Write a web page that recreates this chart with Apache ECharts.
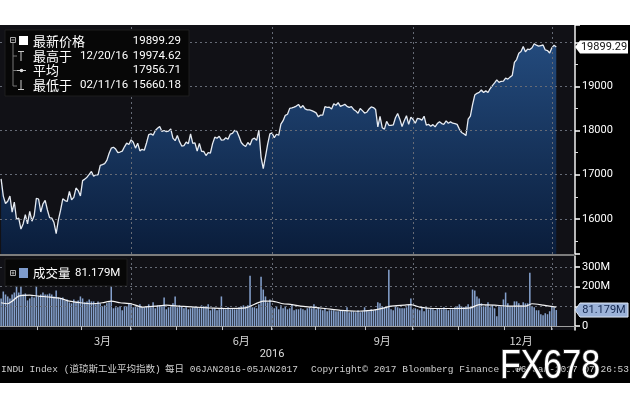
<!DOCTYPE html>
<html><head><meta charset="utf-8">
<script src="https://cdn.jsdelivr.net/npm/echarts@6/dist/echarts.min.js"></script>
<style>html,body{margin:0;padding:0;background:#000;}#c{width:630px;height:402px;}</style>
</head><body><div id="c"></div>
<script>
// ---------- DATA ----------
const startDate = '2016-01-06';
const endDate = '2017-01-18';
const holidays = ['2016-01-18','2016-02-15','2016-03-25','2016-05-30','2016-07-04','2016-09-05','2016-11-24','2016-12-26','2017-01-02','2017-01-16'];

// daily close, one per trading day from 2016-01-06 to 2017-01-05
const priceClose = [
 16907,16515,16346,16399,16516,16151,16380,15988,16016,15767,15883,16094,15886,16167,15945,16069,16466,
 16449,16154,16337,16417,16205,16027,16014,15914,15660,15974,16196,16454,16413,16392,16620,16431,16485,16698,16640,16517,
 16866,16900,16944,17007,17074,16965,17000,16995,17213,17230,17251,17326,17481,17602,17624,17583,17503,17516,17536,17634,17717,17685,
 17793,17737,17604,17716,17542,17577,17556,17721,17909,17927,17898,18004,18054,18096,17983,18004,17978,17991,18042,17830,17774,
 17892,17751,17652,17661,17740,17705,17929,17711,17721,17535,17711,17530,17527,17436,17501,17493,17706,17852,17828,17873,17787,
 17790,17838,17807,17920,17938,18006,17986,17866,17733,17675,17641,17733,17675,17805,17830,17780,18011,17400,17141,17410,17695,17930,
 17949,17841,17919,17896,18147,18227,18348,18373,18507,18517,18534,18559,18596,18518,18571,18494,18473,18473,18456,18432,
 18404,18314,18355,18352,18544,18529,18533,18495,18614,18577,18636,18553,18573,18598,18553,18530,18548,18482,18449,18395,18503,18455,18401,
 18419,18492,18539,18526,18480,18085,18326,18067,18034,18212,18124,18120,18130,18294,18392,18262,18094,18228,18340,18144,18308,
 18254,18168,18281,18269,18240,18329,18129,18145,18099,18138,18087,18162,18203,18163,18146,18224,18170,18199,18170,18161,18143,
 18037,17960,17931,17889,18260,18333,18590,18808,18848,18869,18924,18868,18904,18868,18957,19024,19084,19153,19098,19122,19124,
 19192,19171,19216,19252,19549,19615,19757,19797,19911,19792,19853,19843,19884,19975,19942,19919,19934,19946,19834,19820,19763,
 19882,19942,19899.29
];

// daily volume (millions)
const volume = [
 140,175,160,150,140,160,170,205,170,200,160,165,130,140,150,145,220,
 150,160,170,160,160,165,160,150,180,145,140,145,130,135,120,115,135,120,130,150,
 140,120,125,135,125,125,110,125,115,100,105,115,120,330,90,95,95,100,80,100,100,115,
 110,95,100,95,110,95,95,100,110,95,120,90,105,105,100,145,85,95,100,115,150,
 95,105,100,90,95,85,90,95,95,95,90,105,100,100,110,80,90,90,80,85,150,
 90,85,95,85,90,85,85,95,100,105,100,105,255,95,95,90,110,250,185,150,120,135,
 95,90,100,85,105,90,100,85,90,110,80,85,85,90,85,80,90,95,90,110,
 85,95,85,80,90,75,80,80,80,75,75,80,80,75,95,70,75,75,70,80,70,75,95,
 80,75,85,80,85,120,115,100,95,100,285,85,80,100,95,90,90,90,95,110,140,
 85,90,85,80,95,75,95,85,90,85,80,90,90,85,95,85,80,85,85,95,100,
 110,100,95,100,110,95,185,180,150,140,115,100,105,120,95,105,90,50,100,100,135,
 170,115,100,100,125,125,115,105,120,115,115,270,100,95,80,80,60,55,65,60,75,
 100,95,81.179
];

// volume moving average
const maDates = ['2016-01-06','2016-01-11','2016-01-13','2016-01-19','2016-01-26','2016-02-01','2016-02-08','2016-02-16','2016-02-22','2016-02-29',
 '2016-03-07','2016-03-14','2016-03-18','2016-03-24','2016-04-01','2016-04-08','2016-04-18','2016-04-25','2016-05-03','2016-05-12',
 '2016-05-20','2016-06-02','2016-06-15','2016-06-27','2016-07-01','2016-07-11','2016-07-15','2016-07-21','2016-07-28','2016-08-05',
 '2016-08-16','2016-08-26','2016-09-06','2016-09-14','2016-09-19','2016-09-27','2016-09-30','2016-10-06','2016-10-14','2016-10-27',
 '2016-11-08','2016-11-14','2016-11-23','2016-12-02','2016-12-14','2016-12-19','2016-12-27','2017-01-05'];
const maValues = [118,113,126,152,157,152,147,140,126,118,
 113,118,126,118,113,96,101,106,101,96,
 92,89,92,126,126,113,109,101,96,89,
 79,75,79,92,101,106,109,96,89,89,
 92,109,106,101,101,113,106,96];

const priceGridLevels = [16000,17000,18000,19000,20000];
const volumeGridLevels = [100,200,300];
const quarterStarts = ['2016-04-01','2016-07-01','2016-10-03','2017-01-03'];
const monthLabelDates = ['2016-03-14','2016-06-13','2016-09-13','2016-12-12'];
const monthLabelTexts = ['3月','6月','9月','12月'];
const yearLabel = '2016';
const lastPrice = 19899.29;
const lastVolume = 81.179;
const statLabels = ['最新价格','最高于','平均','最低于'];
const statDates = ['','12/20/16','','02/11/16'];
const statValues = ['19899.29','19974.62','17956.71','15660.18'];
const volumeLegend = ['成交量','81.179M'];
const footerTexts = ['INDU Index (道琼斯工业平均指数)','每日 06JAN2016-05JAN2017','Copyright© 2017 Bloomberg Finance L.P.','06-Jan-2017 07:26:53'];

// ---------- BUILD ----------
function tradingDays(start, end, hol) {
  const out = [];
  const d = new Date(start + 'T00:00:00Z');
  const e = new Date(end + 'T00:00:00Z');
  while (d <= e) {
    const dow = d.getUTCDay();
    const s = d.toISOString().slice(0, 10);
    if (dow !== 0 && dow !== 6 && hol.indexOf(s) < 0) out.push(s);
    d.setUTCDate(d.getUTCDate() + 1);
  }
  return out;
}
const categories = tradingDays(startDate, endDate, holidays);

const CJK = "'Noto Sans CJK SC', sans-serif";
const NUM = "Roboto, 'Noto Sans', sans-serif";
const MONO = "'Liberation Mono', 'Noto Sans CJK SC', monospace";

function T(x, y, text, o) {
  o = o || {};
  const st = {text: text, fill: o.fill || '#fff', fontSize: o.size || 11, fontFamily: o.family || NUM,
    fontWeight: o.weight || 'normal', align: o.align || 'left', textAlign: o.align || 'left',
    verticalAlign: 'middle', textVerticalAlign: 'middle'};
  if (o.stroke) { st.stroke = o.stroke; st.lineWidth = o.lineWidth || 1; }
  const el = {type: 'text', x: x, y: y, z: o.z || 100, silent: true, style: st};
  if (o.scaleX) { el.scaleX = o.scaleX; }
  return el;
}
function L(x1, y1, x2, y2, c, w) {
  return {type: 'line', z: 100, silent: true, shape: {x1: x1, y1: y1, x2: x2, y2: y2}, style: {stroke: c || '#999', lineWidth: w || 1}};
}
function R(x, y, w, h, fill, stroke, z) {
  const st = {fill: fill};
  if (stroke) { st.stroke = stroke; st.lineWidth = 1; }
  return {type: 'rect', z: z || 100, silent: true, shape: {x: x, y: y, width: w, height: h}, style: st};
}

const gridLine = {color: '#666b76', type: [2, 3], width: 1};
const mkLine = function (levels) {
  return {silent: true, symbol: 'none', label: {show: false}, animation: false, lineStyle: gridLine,
    data: levels.map(v => ({yAxis: v})).concat(quarterStarts.map(d => ({xAxis: d})))};
};

const chart = echarts.init(document.getElementById('c'), null, {renderer: 'canvas', width: 630, height: 402});

const option = {
  backgroundColor: '#000',
  animation: false,
  grid: [
    {left: 0, top: 25, width: 575, height: 229, show: true, backgroundColor: '#111116', borderWidth: 0},
    {left: 0, top: 256, width: 575, height: 74, show: true, backgroundColor: '#111116', borderWidth: 0}
  ],
  xAxis: [
    {type: 'category', gridIndex: 0, data: categories, boundaryGap: true,
      axisLine: {show: false}, axisTick: {show: false}, axisLabel: {show: false}, splitLine: {show: false}},
    {type: 'category', gridIndex: 1, data: categories, boundaryGap: true,
      axisLine: {show: true, lineStyle: {color: '#a0a0a0', width: 1}},
      axisTick: {show: true, length: 4, lineStyle: {color: '#c0c0c0'},
        interval: function (i, v) { return i > 0 && v.slice(5, 7) !== categories[i - 1].slice(5, 7); }},
      axisLabel: {show: true, color: '#d8d8d8', fontSize: 11, fontFamily: CJK, margin: 5,
        interval: function (i, v) { return monthLabelDates.indexOf(v) >= 0; },
        formatter: function (v) { const k = monthLabelDates.indexOf(v); return k >= 0 ? monthLabelTexts[k] : ''; }},
      splitLine: {show: false}}
  ],
  yAxis: [
    {type: 'value', gridIndex: 0, position: 'right', min: 15200, max: 20400, splitNumber: 5,
      axisLine: {show: true, lineStyle: {color: '#f2f2f2', width: 1.5}},
      axisTick: {show: true, length: 5, lineStyle: {color: '#fff', width: 1.5}},
      minorTick: {show: true, splitNumber: 2, length: 3, lineStyle: {color: '#ddd', width: 1}},
      axisLabel: {color: '#fff', fontSize: 11, fontFamily: NUM, margin: 7, showMinLabel: false, showMaxLabel: false,
        formatter: function (v) { return (v === 20000 || v % 1000 !== 0) ? '' : String(v); }},
      splitLine: {show: false}},
    {type: 'value', gridIndex: 1, position: 'right', min: -20, max: 355, splitNumber: 5,
      axisLine: {show: true, lineStyle: {color: '#f2f2f2', width: 1.5}},
      axisTick: {show: true, length: 5, lineStyle: {color: '#fff', width: 1.5}},
      axisLabel: {color: '#fff', fontSize: 11, fontFamily: NUM, margin: 7, showMinLabel: false, showMaxLabel: false,
        formatter: function (v) { if (v === 0) return '0'; if (v === 200 || v === 300) return v + 'M'; return ''; }},
      splitLine: {show: false}}
  ],
  series: [
    {type: 'line', xAxisIndex: 0, yAxisIndex: 0, data: priceClose, showSymbol: false, symbol: 'none', z: 2,
      lineStyle: {color: '#e6ebf2', width: 1.3},
      areaStyle: {opacity: 1, color: new echarts.graphic.LinearGradient(0, 0, 0, 1, [
        {offset: 0, color: '#234a7c'}, {offset: 1, color: '#0a1d3b'}])},
      markLine: mkLine(priceGridLevels)},
    {type: 'bar', xAxisIndex: 1, yAxisIndex: 1, data: volume, barWidth: '70%', z: 2,
      itemStyle: {color: '#84a0cc'},
      markLine: mkLine(volumeGridLevels)},
    {type: 'line', xAxisIndex: 1, yAxisIndex: 1, data: maDates.map((d, i) => [d, maValues[i]]),
      showSymbol: false, symbol: 'none', smooth: 0.2, z: 5,
      lineStyle: {color: '#f4f4f4', width: 1.2}}
  ]
};
chart.setOption(option);

const pY = chart.convertToPixel({yAxisIndex: 0}, lastPrice);
const vY = chart.convertToPixel({yAxisIndex: 1}, lastVolume);

const g = [];
// outer white strips
g.push(R(0, 0, 630, 25, '#ffffff', null, 150));
g.push(R(0, 383, 630, 19, '#ffffff', null, 90));
// panel divider
g.push(R(0, 254, 575, 2, '#7c7c7c', null, 120));

// price legend box
g.push(R(5, 30, 184, 66, '#070707', '#1e1e1e'));
g.push(R(10.5, 37.5, 5, 5, 'none', '#aaaaaa'));
g.push(L(11.5, 40, 14.5, 40, '#aaaaaa'));
g.push(R(19, 36, 9, 9, '#ffffff'));
g.push({type: 'polyline', z: 100, silent: true, shape: {points: [[13, 43], [13, 86], [17, 86]]}, style: {stroke: '#777', lineWidth: 1, fill: null}});
g.push(L(13, 56, 17, 56, '#777'));
g.push(L(13, 70.5, 17, 70.5, '#777'));
// max icon
g.push(L(18, 51.5, 24, 51.5, '#cccccc'));
g.push(L(21, 51.5, 21, 61, '#cccccc'));
// avg icon
g.push(L(17, 70.5, 26, 70.5, '#cccccc'));
g.push({type: 'circle', z: 101, silent: true, shape: {cx: 21.5, cy: 70.5, r: 1.8}, style: {fill: '#dddddd'}});
// min icon
g.push(L(21, 80, 21, 89.5, '#cccccc'));
g.push(L(18, 89.5, 24, 89.5, '#cccccc'));
const rowY = [41, 56, 70.5, 85];
for (let i = 0; i < 4; i++) {
  g.push(T(33, rowY[i], statLabels[i], {size: 13, family: CJK}));
  if (statDates[i]) g.push(T(80, rowY[i], statDates[i], {size: 11.5}));
  g.push(T(181, rowY[i], statValues[i], {size: 11.5, align: 'right'}));
}

// volume legend box
g.push(R(5, 259, 122, 27, '#070707', '#1e1e1e'));
g.push(R(10.5, 270.5, 5, 5, 'none', '#aaaaaa'));
g.push(L(11.5, 273, 14.5, 273, '#aaaaaa'));
g.push(L(13, 271.5, 13, 274.5, '#aaaaaa'));
g.push(R(19, 268, 9, 10, '#7e9bcc'));
g.push(T(33, 273, volumeLegend[0], {size: 12.5, family: CJK}));
g.push(T(75, 273, volumeLegend[1], {size: 11.5}));

// last-value tags
g.push({type: 'polygon', z: 110, silent: true, shape: {points: [[575, pY], [580, pY - 6.5], [628, pY - 6.5], [628, pY + 6.5], [580, pY + 6.5]]}, style: {fill: '#ffffff'}});
g.push(T(604, pY, String(lastPrice), {size: 11, fill: '#111', align: 'center', z: 111}));
g.push({type: 'polygon', z: 110, silent: true, shape: {points: [[575, vY], [580, vY - 7], [628, vY - 7], [628, vY + 7], [580, vY + 7]]}, style: {fill: '#9bb2d8', stroke: '#dfe8f6', lineWidth: 1}});
g.push(T(604, vY, lastVolume + 'M', {size: 11, fill: '#142850', align: 'center', z: 111}));

// axis year + footer
g.push(T(272, 354, yearLabel, {size: 11, fill: '#dddddd', align: 'center'}));
g.push(T(1, 369, footerTexts[0], {size: 9.5, family: MONO, fill: '#cfcfcf'}));
g.push(T(165, 369, footerTexts[1], {size: 9.5, family: MONO, fill: '#cfcfcf'}));
g.push(T(311, 369, footerTexts[2], {size: 9.5, family: MONO, fill: '#cfcfcf'}));
g.push(T(629, 369, footerTexts[3], {size: 9.5, family: MONO, fill: '#cfcfcf', align: 'right'}));
// watermark
g.push(T(550, 367, 'FX678', {size: 40, family: "'Liberation Sans', Arial, sans-serif", fill: '#ffffff', stroke: '#2a2a2a', lineWidth: 2, align: 'center', z: 200, scaleX: 0.85}));

chart.setOption({graphic: {elements: g}});
</script>
</body></html>
